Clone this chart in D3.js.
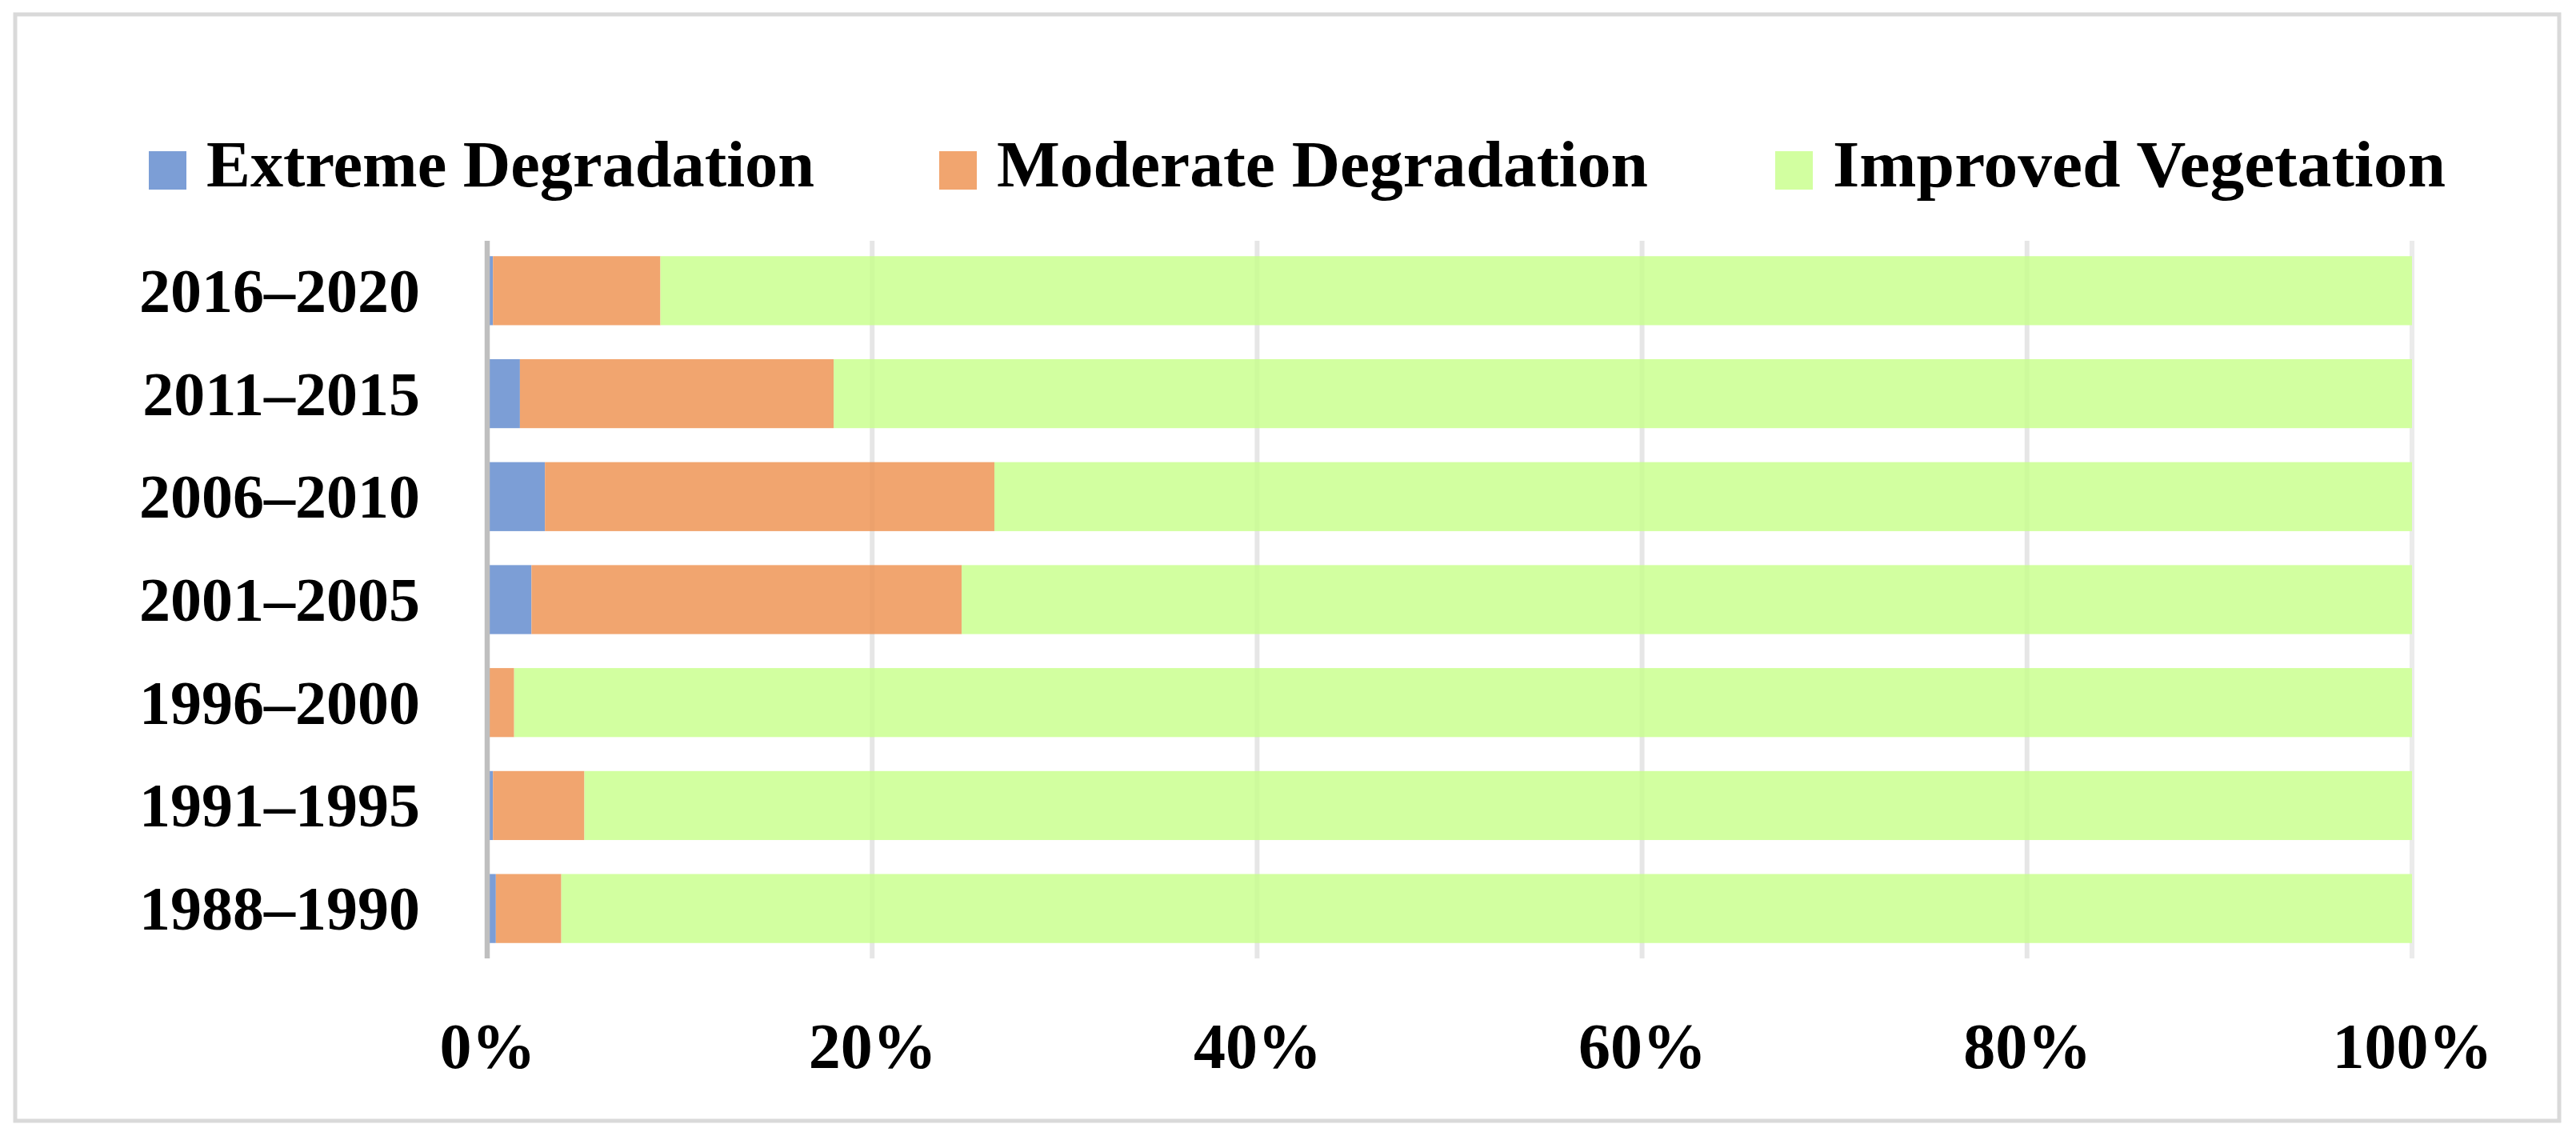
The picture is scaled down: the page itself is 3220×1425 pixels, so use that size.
<!DOCTYPE html>
<html>
<head>
<meta charset="utf-8">
<script src="https://cdn.jsdelivr.net/npm/d3@7"></script>
<style>
  html, body { margin: 0; padding: 0; background: #ffffff; }
  svg { display: block; }
</style>
</head>
<body>
<svg id="chart" width="3220" height="1425"></svg>
<script>
// ---- data ----
const categories = ["2016–2020", "2011–2015", "2006–2010", "2001–2005", "1996–2000", "1991–1995", "1988–1990"];
const seriesNames = ["Extreme Degradation", "Moderate Degradation", "Improved Vegetation"];
const extremeDegradation  = [0.3, 1.7, 3.0, 2.3, 0.0, 0.3, 0.45];
const moderateDegradation = [8.7, 16.3, 23.35, 22.35, 1.4, 4.75, 3.4];
const improvedVegetation  = [91.0, 82.0, 73.65, 75.35, 98.6, 94.95, 96.15];
const xTicks = [0, 20, 40, 60, 80, 100];
const tickLabels = ["0%", "20%", "40%", "60%", "80%", "100%"];
const colors = ["#7c9ed6", "#f1a56f", "#d2ffa0"];

// ---- layout ----
const svg = d3.select("#chart");
const fontFamily = "'Liberation Serif', 'Times New Roman', serif";

// outer frame
svg.append("rect")
  .attr("x", 19).attr("y", 18)
  .attr("width", 3180).attr("height", 1383)
  .attr("fill", "#ffffff")
  .attr("stroke", "#d9d9d9")
  .attr("stroke-width", 5);

const x = d3.scaleLinear().domain([0, 100]).range([609, 3015]);
const y = d3.scaleBand().domain(categories).range([299, 1200])
  .paddingInner(0.33).paddingOuter(0.165);
const plotTop = 301, plotBottom = 1198;

// build table for stack
const table = categories.map((c, i) => ({
  cat: c,
  [seriesNames[0]]: extremeDegradation[i],
  [seriesNames[1]]: moderateDegradation[i],
  [seriesNames[2]]: improvedVegetation[i]
}));
const stacked = d3.stack().keys(seriesNames)(table);

// gridlines (behind)
svg.append("g").selectAll("line").data(xTicks.slice(1)).join("line")
  .attr("x1", d => x(d)).attr("x2", d => x(d))
  .attr("y1", plotTop).attr("y2", plotBottom)
  .attr("stroke", "#ebebeb").attr("stroke-width", 6);

// bars
const layers = svg.append("g").selectAll("g").data(stacked).join("g")
  .attr("fill", (d, i) => colors[i]);
layers.selectAll("rect").data(d => d).join("rect")
  .attr("x", d => x(d[0]))
  .attr("width", d => Math.max(0, x(d[1]) - x(d[0])))
  .attr("y", d => y(d.data.cat))
  .attr("height", y.bandwidth());

// faint gridline overlay on bars
svg.append("g").selectAll("line").data(xTicks.slice(1, -1)).join("line")
  .attr("x1", d => x(d)).attr("x2", d => x(d))
  .attr("y1", plotTop).attr("y2", plotBottom)
  .attr("stroke", "#000000").attr("stroke-opacity", 0.02).attr("stroke-width", 6);

// vertical axis line at 0
svg.append("line")
  .attr("x1", x(0)).attr("x2", x(0))
  .attr("y1", plotTop).attr("y2", plotBottom)
  .attr("stroke", "#bfbfbf").attr("stroke-width", 6.5);

// category labels (y axis)
const yAxis = d3.axisLeft(y).tickSize(0).tickPadding(0);
const yg = svg.append("g").attr("transform", "translate(525,0)").call(yAxis);
yg.select(".domain").remove();
yg.selectAll("text")
  .attr("font-family", fontFamily)
  .attr("font-weight", "bold")
  .attr("font-size", 78)
  .attr("fill", "#000000")
  .attr("dy", null)
  .attr("dominant-baseline", "central");

// x tick labels
const xAxis = d3.axisBottom(x).tickValues(xTicks).tickFormat((d, i) => tickLabels[i]).tickSize(0).tickPadding(0);
const xg = svg.append("g").attr("transform", "translate(0,1335)").call(xAxis);
xg.select(".domain").remove();
xg.selectAll("text")
  .attr("font-family", fontFamily)
  .attr("font-weight", "bold")
  .attr("font-size", 80)
  .attr("fill", "#000000")
  .attr("y", 0)
  .attr("dy", null);

// legend
const legendX = [186, 1174, 2219];
const legendTextWidth = [760, 814, 766];
const leg = svg.append("g").selectAll("g").data(seriesNames).join("g")
  .attr("transform", (d, i) => `translate(${legendX[i]},0)`);
leg.append("rect")
  .attr("x", 0).attr("y", 189)
  .attr("width", 47).attr("height", 48)
  .attr("fill", (d, i) => colors[i]);
leg.append("text")
  .attr("x", 72).attr("y", 233)
  .attr("font-family", fontFamily)
  .attr("font-weight", "bold")
  .attr("font-size", 82)
  .attr("fill", "#000000")
  .attr("textLength", (d, i) => legendTextWidth[i])
  .attr("lengthAdjust", "spacingAndGlyphs")
  .text(d => d);
</script>
</body>
</html>
